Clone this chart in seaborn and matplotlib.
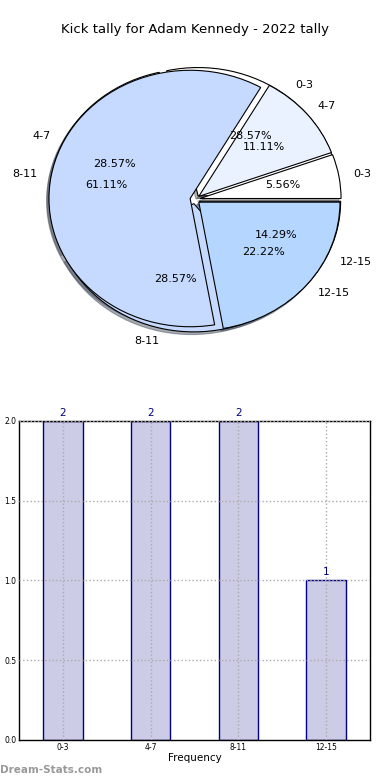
import matplotlib
matplotlib.use("Agg")
import matplotlib.pyplot as plt
import seaborn as sns
import pandas as pd

sns.set_style("white")
plt.rcParams['font.family'] = ['DejaVu Sans']
plt.rcParams['text.color'] = 'black'
plt.rcParams['axes.labelcolor'] = 'black'
plt.rcParams['xtick.color'] = 'black'
plt.rcParams['ytick.color'] = 'black'

categories = ["0-3", "4-7", "8-11", "12-15"]
pie_a_values = [1, 2, 11, 4]      # top pie: 5.56, 11.11, 61.11, 22.22 %
pie_b_values = [2, 2, 2, 1]       # under pie: 28.57, 28.57, 28.57, 14.29 %
bar_values = [2, 2, 2, 1]
title = "Kick tally for Adam Kennedy - 2022 tally"
xlabel = "Frequency"
watermark = "Dream-Stats.com"

pie_colors = ["#ffffff", "#eaf1ff", "#c6d9ff", "#b5d6ff"]
bar_face = "#ccccE6"
bar_edge = "#000080"

fig = plt.figure(figsize=(3.9, 7.8), dpi=100)

# ---- pie ----
ax1 = fig.add_axes([0.0475, 0.539, 0.905, 0.411])
explode = [0.035] * 4
shadow = dict(ox=-0.012, oy=-0.015, shade=0.6)
ax1.pie(pie_b_values, labels=categories, colors=pie_colors, explode=explode,
        autopct="%.2f%%", shadow=shadow, startangle=0,
        wedgeprops=dict(edgecolor="black", linewidth=0.8),
        textprops=dict(fontsize=8, color="black"))
ax1.pie(pie_a_values, labels=categories, colors=pie_colors, explode=explode,
        autopct="%.2f%%", shadow=shadow, startangle=0,
        wedgeprops=dict(edgecolor="black", linewidth=0.8),
        textprops=dict(fontsize=8, color="black"))
ax1.set_aspect("auto")
ax1.set_xlim(-1.25, 1.25)
ax1.set_ylim(-1.25, 1.25)
fig.text(0.5, 1 - 30 / 780, title, ha="center", va="center", fontsize=9.5,
         color="black")

# ---- bars ----
ax2 = fig.add_axes([0.0487, 0.0513, 0.9, 0.409])
df = pd.DataFrame({"cat": categories, "val": bar_values})
sns.barplot(data=df, x="cat", y="val", ax=ax2, color=bar_face, saturation=1,
            width=0.45, edgecolor=bar_edge, linewidth=1, zorder=2)
ax2.set_xlim(-0.5, 3.5)
ax2.set_ylim(0, 2.0)
ax2.set_yticks([0, 0.5, 1.0, 1.5, 2.0])
ax2.set_yticklabels(["0.0", "0.5", "1.0", "1.5", "2.0"])
ax2.tick_params(axis="both", labelsize=5.5, direction="in", length=3, pad=2)
ax2.grid(True, linestyle=":", color="#aaaaaa", linewidth=1, zorder=3)
ax2.set_axisbelow(False)
for s in ax2.spines.values():
    s.set_visible(True)
    s.set_color("black")
    s.set_linewidth(1)
ax2.set_xlabel(xlabel, fontsize=7.5, labelpad=1)
ax2.set_ylabel("")
for i, v in enumerate(bar_values):
    ax2.text(i, v + 0.02, str(v), ha="center", va="bottom", fontsize=7.5,
             color=bar_edge, clip_on=False)

fig.text(0.0, 1 - 770 / 780, watermark, ha="left", va="center", fontsize=7.5,
         color="#999999", fontweight="bold")

fig.savefig("out.png", dpi=100)
